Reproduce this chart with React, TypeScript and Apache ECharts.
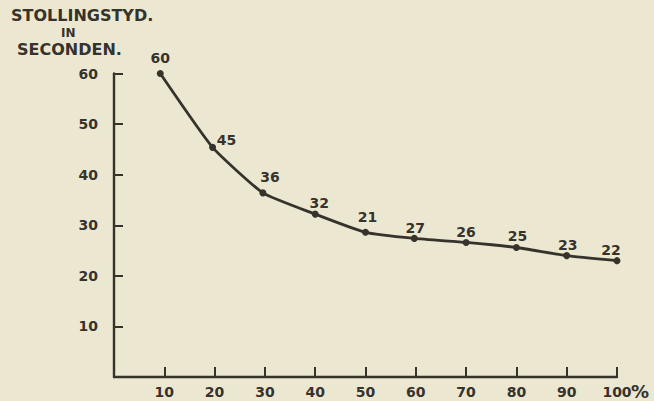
import React, { useEffect, useRef } from "react";
import * as echarts from "echarts";

// Data
const xValues = [9.2, 19.6, 29.6, 40, 50, 59.7, 70, 80, 90, 100];
const yValues = [60, 45.4, 36.4, 32.2, 28.6, 27.4, 26.6, 25.6, 24, 23];
const pointLabels = ["60", "45", "36", "32", "21", "27", "26", "25", "23", "22"];
const xTickLabels = ["10", "20", "30", "40", "50", "60", "70", "80", "90", "100"];
const yTickLabels = ["10", "20", "30", "40", "50", "60"];
const titleLines = ["STOLLINGSTYD.", "IN", "SECONDEN."];
const unitLabel = "%";

// Layout constants (not data)
const labelOffsets: [number, number][] = [
  [0, 0], [14, 8], [7, 0], [4, 4], [2, 0], [1, 5], [0, 5], [1, 4], [1, 5], [-6, 5],
];

const INK = "#36322c";
const BG = "#ece7d1";
const FONT = "DejaVu Sans";

export default function App() {
  const ref = useRef<HTMLDivElement>(null);
  useEffect(() => {
    if (!ref.current) return;
    const chart = echarts.init(ref.current, undefined, { renderer: "svg" });
    const data = xValues.map((x, i) => ({
      value: [x, yValues[i]],
      label: { offset: labelOffsets[i] },
    }));
    chart.setOption({
      animation: false,
      backgroundColor: BG,
      grid: { left: 114, right: 37, top: 73.5, bottom: 24, containLabel: false },
      xAxis: {
        type: "value",
        min: 0,
        max: 100,
        interval: 10,
        axisLine: { show: true, lineStyle: { color: INK, width: 2.4 } },
        axisTick: { show: true, inside: true, length: 10, lineStyle: { color: INK, width: 2 } },
        splitLine: { show: false },
        axisLabel: {
          margin: 8,
          color: INK,
          fontFamily: FONT,
          fontWeight: "bold",
          fontSize: 14,
          formatter: (v: number) => {
            const idx = Math.round(v / 10) - 1;
            return idx >= 0 ? xTickLabels[idx] : "";
          },
        },
      },
      yAxis: {
        type: "value",
        min: 0,
        max: 60,
        interval: 10,
        axisLine: { show: true, lineStyle: { color: INK, width: 2.4 } },
        axisTick: { show: true, inside: true, length: 9, lineStyle: { color: INK, width: 2 } },
        splitLine: { show: false },
        axisLabel: {
          margin: 16,
          color: INK,
          fontFamily: FONT,
          fontWeight: "bold",
          fontSize: 14,
          formatter: (v: number) => {
            const idx = Math.round(v / 10) - 1;
            return idx >= 0 ? yTickLabels[idx] : "";
          },
        },
      },
      series: [
        {
          type: "line",
          data,
          smooth: 0.15,
          symbol: "circle",
          symbolSize: 7,
          itemStyle: { color: INK },
          lineStyle: { color: INK, width: 2.8 },
          label: {
            show: true,
            position: "top",
            color: INK,
            fontFamily: FONT,
            fontWeight: "bold",
            fontSize: 14,
            formatter: (p: any) => pointLabels[p.dataIndex],
          },
        },
      ],
      graphic: [
        {
          type: "text",
          left: 11,
          top: 7,
          style: {
            text: titleLines[0],
            fill: INK,
            font: `bold 16px '${FONT}'`,
          },
        },
        {
          type: "text",
          left: 61,
          top: 27,
          style: { text: titleLines[1], fill: INK, font: `bold 12px '${FONT}'` },
        },
        {
          type: "text",
          left: 17,
          top: 41,
          style: { text: titleLines[2], fill: INK, font: `bold 16px '${FONT}'` },
        },
        {
          type: "text",
          left: 631,
          top: 382,
          style: { text: unitLabel, fill: INK, font: `bold 18px '${FONT}'` },
        },
      ],
    });
    return () => chart.dispose();
  }, []);
  return (
    <div
      ref={ref}
      style={{ position: "fixed", left: 0, top: 0, width: 654, height: 401 }}
    />
  );
}
